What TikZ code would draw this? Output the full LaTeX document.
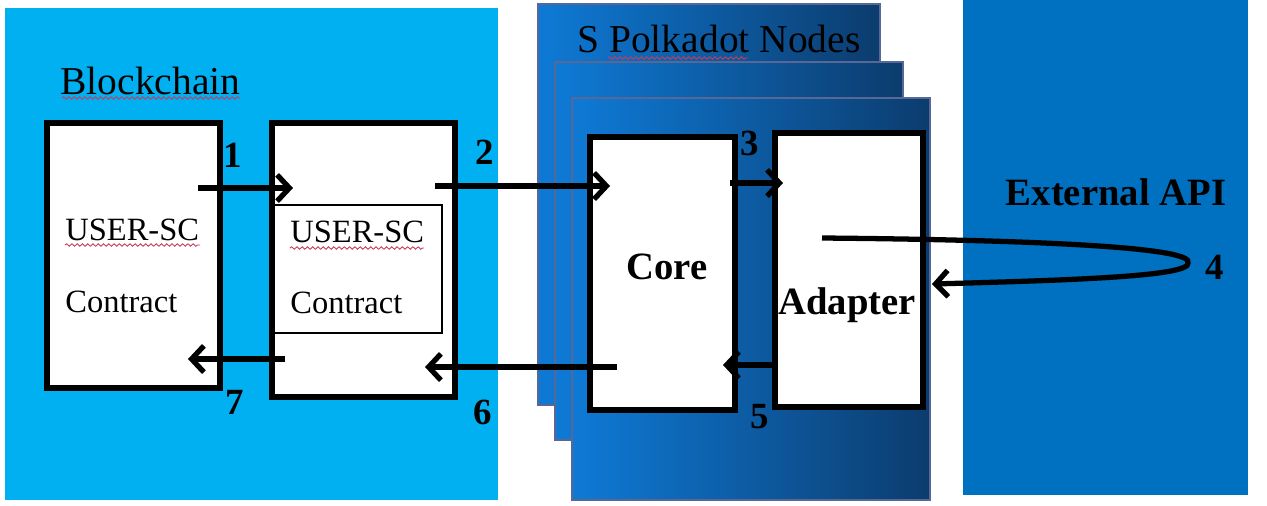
\documentclass[tikz,border=0pt]{standalone}
\usepackage{fontspec}
\setmainfont{Liberation Serif}
\usetikzlibrary{arrows.meta,decorations.pathmorphing}
\definecolor{chainblue}{RGB}{0,176,240}
\definecolor{apiblue}{RGB}{0,112,192}
\definecolor{nodeleft}{RGB}{14,122,214}
\definecolor{noderight}{RGB}{12,60,110}
\definecolor{nodeedge}{RGB}{88,104,150}
\definecolor{spellred}{RGB}{200,60,90}

\begin{document}
\begin{tikzpicture}[x=0.02cm,y=-0.02cm,
	box/.style={draw,line width=3pt,fill=white,inner sep=0pt},
	flow/.style={line width=3pt,-{Straight Barb[length=7pt,width=15pt]}},
	num/.style={font=\fontsize{21}{21}\selectfont\bfseries,inner sep=0pt},
	big/.style={font=\fontsize{22.5}{22.5}\selectfont,inner sep=0pt},
	txt/.style={font=\fontsize{18.5}{18.5}\selectfont,anchor=west,inner sep=0pt},
	card/.style={left color=nodeleft,right color=noderight,draw=nodeedge,line width=0.8pt},
	spell/.style={spellred,line width=0.5pt,decorate,decoration={snake,segment length=3pt,amplitude=0.7pt}}]
	\useasboundingbox (0,0) rectangle (1267,505);
	% background areas
	\fill[chainblue] (5,8) rectangle (498,500);
	\fill[apiblue] (963,0) rectangle (1248,495);
	\foreach \l/\t/\r/\b in {538/4/880/405,555/62/903/440,572/98/930/500}
		\draw[card] (\l,\t) rectangle (\r,\b);

	\node[big,anchor=base west] (chain) at (60,94) {Blockchain};
	\node[big,anchor=base west] (polka) at (577,52) {S Polkadot Nodes};
	\node[big,font=\fontsize{22}{22}\selectfont\bfseries] (api) at (1116,192) {External API};
	\draw[spell] (62,98) -- (240,98);
	\draw[spell] (608,58) -- (748,58);

	% boxes
	\node[box,minimum width=3.46cm,minimum height=5.3cm] (user) at (133.5,255.5) {};
	\node[box,minimum width=3.66cm,minimum height=5.48cm] (oracle) at (363.5,260) {};
	\node[draw,line width=0.6pt,minimum width=3.4cm,minimum height=2.56cm,inner sep=0pt] (inner) at (357,269) {};
	\node[box,minimum width=2.9cm,minimum height=5.46cm] (core) at (662.5,273.5) {};
	\node[box,minimum width=2.96cm,minimum height=5.48cm] (adapter) at (849,270) {};

	\node[txt] (usc1) at (65,230) {USER-SC};
	\node[txt] (con1) at (65,302) {Contract};
	\node[txt] (usc2) at (290,232) {USER-SC};
	\node[txt] (con2) at (290,303) {Contract};
	\draw[spell] (65,245) -- (200,245);
	\draw[spell] (290,248) -- (424,248);
	\node[big,font=\fontsize{22}{22}\selectfont\bfseries] (coretxt) at (667,267) {Core};
	\node[big,font=\fontsize{22}{22}\selectfont\bfseries] (adaptertxt) at (847,305) {Adapter};

	% arrow ends
	\coordinate (a1s) at (198,188);
	\coordinate (a1e) at (293,188);
	\coordinate (a2s) at (435,186);
	\coordinate (a2e) at (610,186);
	\coordinate (a3s) at (730,183);
	\coordinate (a3e) at (783,183);
	\coordinate (a4s) at (822,238);
	\coordinate (a4m) at (1188,263);
	\coordinate (a4e) at (932,284);
	\coordinate (a5s) at (778,365);
	\coordinate (a5e) at (723,365);
	\coordinate (a6s) at (617,367);
	\coordinate (a6e) at (425,367);
	\coordinate (a7s) at (285,359);
	\coordinate (a7e) at (188,359);

	\foreach \n in {1,2,3,5,6,7}
		\draw[flow] (a\n s) -- (a\n e);
	\draw[flow] (a4s) .. controls (1050,240) and (1195,248) .. (a4m) .. controls (1190,276) and (1080,280) .. (a4e);

	\node[num] (n1) at (233,155) {1};
	\node[num] (n2) at (485,152) {2};
	\node[num] (n3) at (750,143) {3};
	\node[num] (n4) at (1215,267) {4};
	\node[num] (n5) at (760,417) {5};
	\node[num] (n6) at (483,412) {6};
	\node[num] (n7) at (235,402) {7};
\end{tikzpicture}
\end{document}
